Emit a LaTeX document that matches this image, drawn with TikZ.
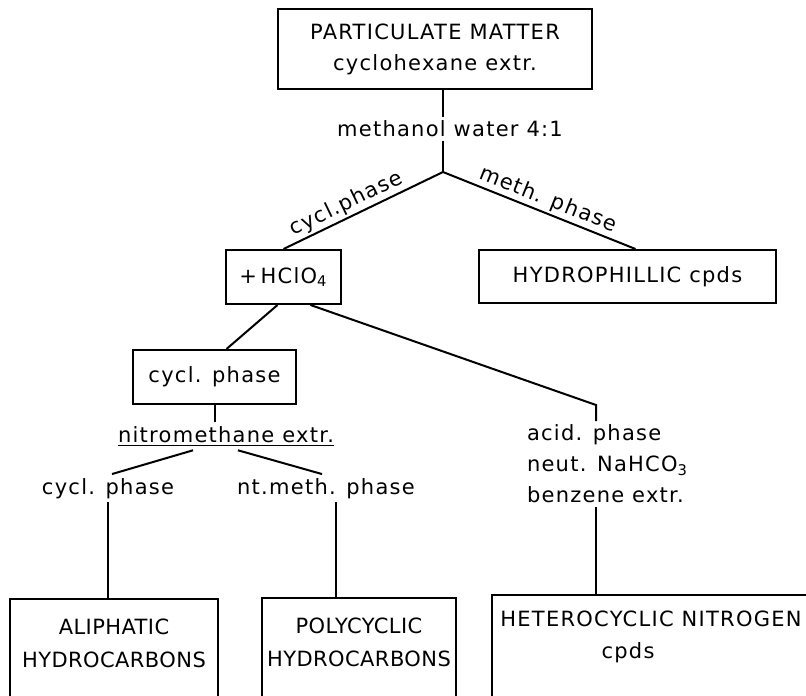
\documentclass[tikz,border=0pt]{standalone}
\usepackage{fontspec}
\setmainfont{DejaVu Sans}[LetterSpace=6]
\usepackage{tikz}
\tikzset{>=latex}
\tikzset{
  box/.style={draw, line width=1pt, rectangle, align=center, inner sep=0pt},
  lowbox/.style={box, anchor=north, inner ysep=10pt, text depth=40pt,
    font=\fontsize{10.5}{16.5}\selectfont\addfontfeatures{LetterSpace=2}},
  lbl/.style={inner sep=1.5pt, align=left},
}

\begin{document}
\begin{tikzpicture}[x=0.5pt, y=-0.5pt, line width=1pt,
    every node/.style={font=\fontsize{10.5}{15.5}\selectfont}]

\useasboundingbox (0,0) rectangle (806,695);
\clip (0,0) rectangle (806,695);

% Boxes
\node[box, minimum width=157pt, minimum height=40pt] (pm) at (435,49)
  {PARTICULATE MATTER\\cyclohexane extr.};
\node[box, minimum width=57.5pt, minimum height=27pt] (hcl) at (283.5,277)
  {+\,HClO\textsubscript{4}};
\node[box, minimum width=148.5pt, minimum height=26.5pt] (hyd) at (627.5,276.5)
  {HYDROPHILLIC cpds};
\node[box, minimum width=81.5pt, minimum height=27pt] (cy) at (214.5,377)
  {cycl. phase};

% bottom boxes, cut by the lower edge
\node[lowbox, minimum width=104pt] (ali) at (114,598)
  {ALIPHATIC\\HYDROCARBONS};
\node[lowbox, minimum width=97pt] (poly) at (359,597)
  {POLYCYCLIC\\HYDROCARBONS};
\node[lowbox, minimum width=159pt, inner ysep=8pt,
  font=\fontsize{10.5}{16}\selectfont] (het) at (651,594)
  {HETEROCYCLIC NITROGEN\\cpds\hspace*{23pt}};

% Labels
\node[lbl, anchor=base] (mw) at (450,137) {methanol water 4:1};
\node[lbl, anchor=base] (nm) at (226,442) {\underline{nitromethane extr.}};
\node[lbl, anchor=base] (cp) at (108,494) {cycl. phase};
\node[lbl, anchor=base] (nt) at (326,494) {nt.meth. phase};
\node[lbl, anchor=north west] (acid) at (523,421)
  {acid. phase\\neut. NaHCO\textsubscript{3}\\benzene extr.};

% Splits
\coordinate (split) at (443,172);
\coordinate (bend) at (596,405);
\coordinate (ntdrop) at ([xshift=5pt]nt.south);

% Lines
\draw (pm.south -| split) -- (mw.north -| split);
\draw (mw.south -| split) -- (split);
\draw (split) -- node[pos=0.57, above, sloped, inner sep=1pt] {cycl.phase} (hcl.north);
\draw (split) -- node[pos=0.52, above, sloped, inner sep=1pt] {meth. phase} ([xshift=4pt]hyd.north);

\draw ([xshift=-3pt]hcl.south) -- ([xshift=6pt]cy.north);
\draw ([xshift=13.5pt]hcl.south) -- (bend) -- (bend |- acid.north);
\draw (bend |- acid.south) -- (bend |- het.north);

\draw (cy.south) -- (cy.south |- nm.north);
\draw ([xshift=-16.5pt]nm.south) -- ([xshift=2pt]cp.north);
\draw ([xshift=6pt]nm.south) -- ([xshift=-2pt]nt.north);

\draw (cp.south) -- (cp.south |- ali.north);
\draw (ntdrop) -- (ntdrop |- poly.north);

\end{tikzpicture}
\end{document}
